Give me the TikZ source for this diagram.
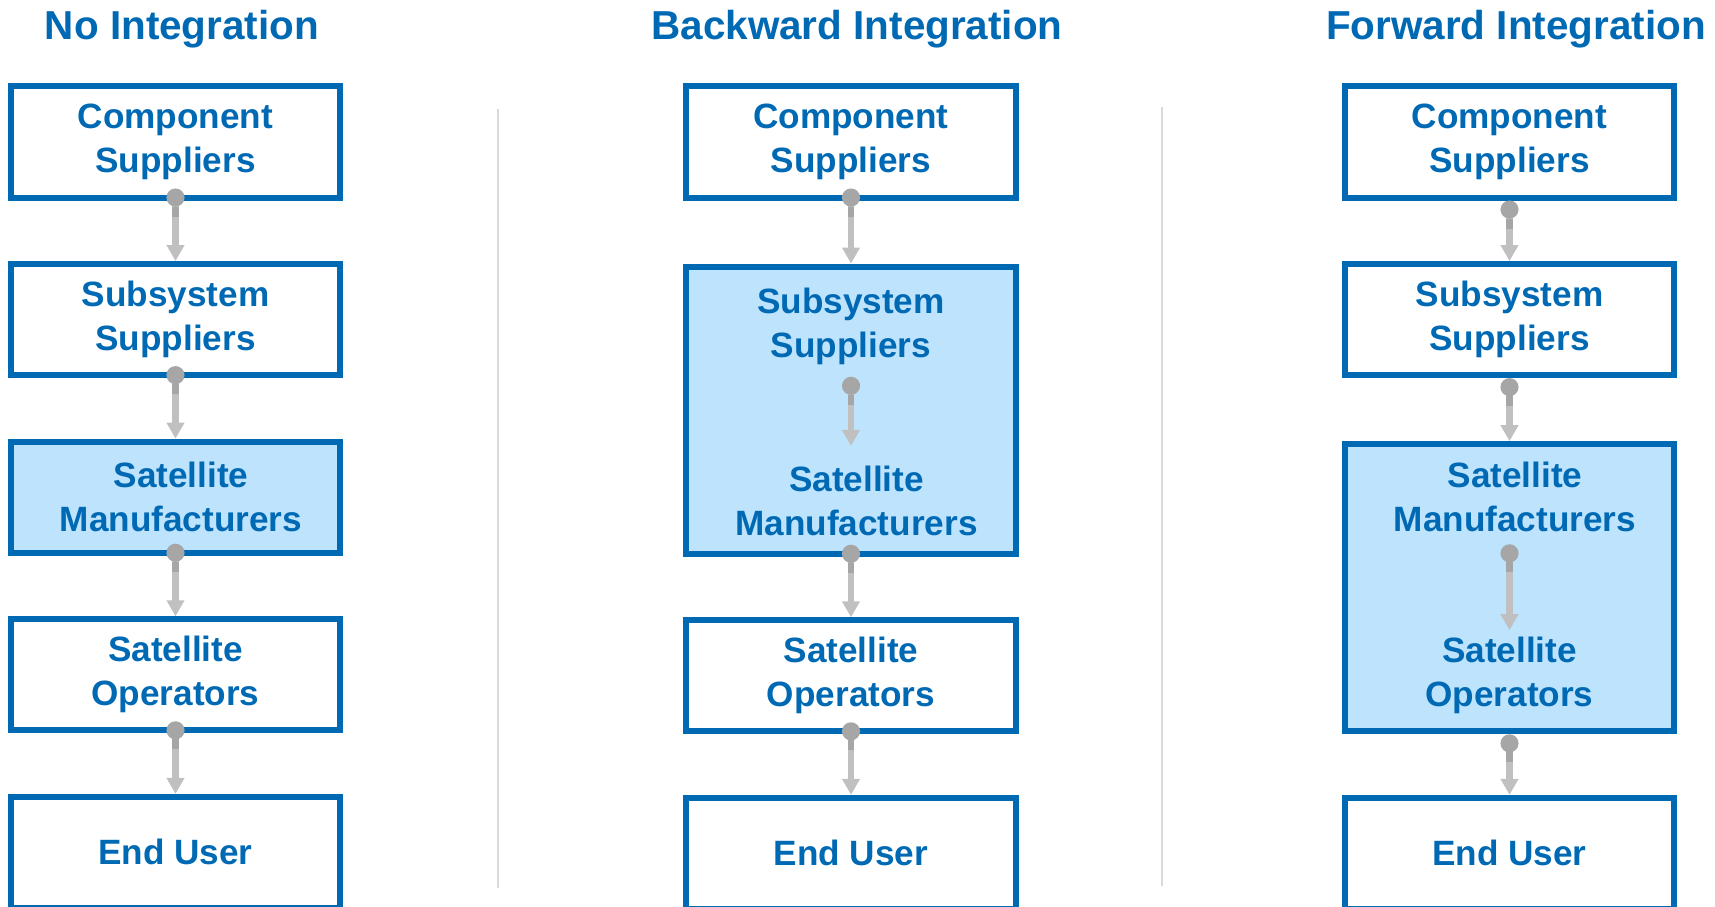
\documentclass[tikz,border=0pt]{standalone}
\usepackage{fontspec}
\setmainfont{Liberation Sans}
\usetikzlibrary{positioning,arrows.meta}
\definecolor{chainblue}{HTML}{0069B4}
\definecolor{intfill}{HTML}{BDE3FD}
\definecolor{pingray}{HTML}{A6A6A6}
\definecolor{linkgray}{HTML}{C0C0C0}
\definecolor{rulegray}{HTML}{D9D9D9}

\begin{document}
\begin{tikzpicture}[
    x=0.01cm, y=0.01cm,
    node distance=0.605cm,
    title/.style={anchor=base, text=chainblue, font=\fontsize{11.5}{13}\selectfont\bfseries},
    stage/.style={rectangle, draw=chainblue, line width=0.06cm, minimum width=3.29cm, minimum height=1.11cm, text=chainblue, align=center, font=\fontsize{10}{12.5}\selectfont\bfseries},
    merged/.style={stage, fill=intfill, minimum height=2.87cm},
    stagetext/.style={text=chainblue, align=center, font=\fontsize{10}{12.5}\selectfont\bfseries},
    link/.style={line width=0.065cm, draw=linkgray, {Circle[length=0.18cm,color=pingray,sep=0pt] Rectangle[length=0.1cm,width=0.065cm,color=pingray]}-{Triangle[length=0.16cm,width=0.17cm,color=linkgray]}, shorten <=-0.12cm},
    divider/.style={draw=rulegray, line width=0.025cm}
]
\useasboundingbox (0,0) rectangle (1715,-907);

% 第一列：无整合
\node (t1) [title] at (182,-40) {No Integration};
\node (c1comp) [stage] at (175.5,-142) {Component\\Suppliers};
\node (c1sub) [stage, below=of c1comp] {Subsystem\\Suppliers};
\node (c1mfr) [stage, fill=intfill, below=of c1sub] {};
\node (c1mfrtxt) [stagetext, xshift=0.055cm] at (c1mfr) {Satellite\\Manufacturers};
\node (c1ops) [stage, below=of c1mfr] {Satellite\\Operators};
\node (c1user) [stage, below=of c1ops] {End User};

\draw [link] (c1comp) -- (c1sub);
\draw [link] (c1sub) -- (c1mfr);
\draw [link] (c1mfr) -- (c1ops);
\draw [link] (c1ops) -- (c1user);

% 分隔线
\draw [divider] (498,-109) -- (498,-888);
\draw [divider] (1162,-107) -- (1162,-886);

% 第二列：后向整合
\node (t2) [title] at (857,-40) {Backward Integration};
\node (c2comp) [stage] at (851,-142) {Component\\Suppliers};
\node (c2grp) [merged, below=0.63cm of c2comp] {};
\node (c2sub) [stagetext] at (851,-326) {Subsystem\\Suppliers};
\node (c2mfr) [stagetext] at (856.5,-501) {Satellite\\Manufacturers};
\node (c2ops) [stage, below=of c2grp] {Satellite\\Operators};
\node (c2user) [stage, below=of c2ops] {End User};

\draw [link] (c2comp) -- (c2grp);
\draw [link, shorten <=0cm, shorten >=0.077cm] (c2sub.south) -- (c2sub.south |- c2mfr.north);
\draw [link] (c2grp) -- (c2ops);
\draw [link] (c2ops) -- (c2user);

% 第三列：前向整合
\node (t3) [title] at (1516,-40) {Forward Integration};
\node (c3comp) [stage] at (1509.5,-142) {Component\\Suppliers};
\node (c3sub) [stage, below=of c3comp] {Subsystem\\Suppliers};
\node (c3grp) [merged, below=0.63cm of c3sub] {};
\node (c3mfr) [stagetext] at (1515,-497) {Satellite\\Manufacturers};
\node (c3ops) [stagetext] at (1509.5,-675) {Satellite\\Operators};
\node (c3user) [stage, below=of c3grp] {End User};

\draw [link, shorten <=0cm] (c3comp) -- (c3sub);
\draw [link, shorten <=0cm] (c3sub) -- (c3grp);
\draw [link, shorten <=0cm, shorten >=-0.06cm] (c3mfr.south -| c3ops.north) -- (c3ops.north);
\draw [link, shorten <=0cm] (c3grp) -- (c3user);

\end{tikzpicture}
\end{document}
